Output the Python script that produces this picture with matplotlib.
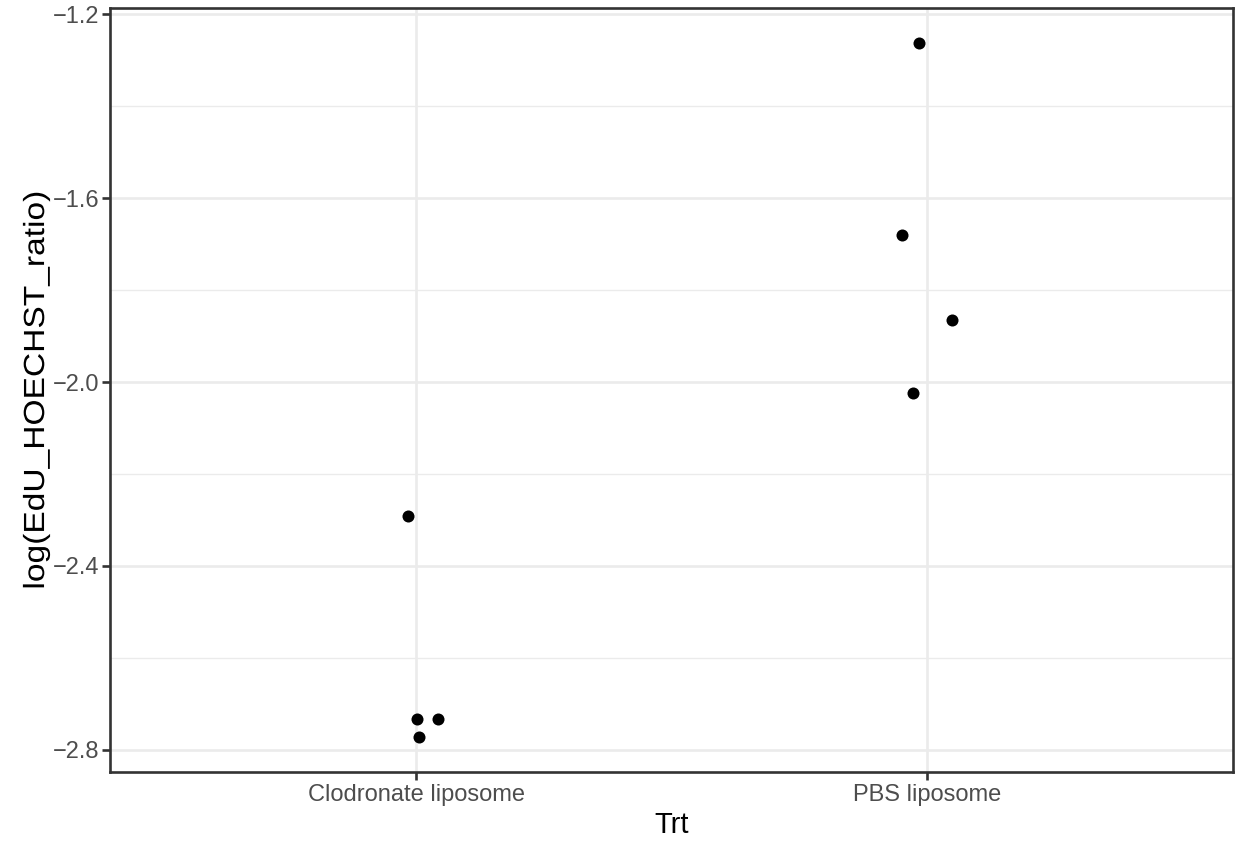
import matplotlib
matplotlib.use("Agg")
import matplotlib.pyplot as plt
import numpy as np
from matplotlib.patheffects import AbstractPathEffect
from matplotlib.transforms import Affine2D

# Treatment groups and measured log ratios (with horizontal jitter offsets)
categories = ["Clodronate liposome", "PBS liposome"]
group_index = [0, 0, 0, 0, 1, 1, 1, 1]
jitter = [-0.016, 0.002, 0.042, 0.005, -0.016, -0.049, 0.049, -0.027]
log_ratio = [-2.291, -2.733, -2.733, -2.773, -1.2615, -1.680, -1.8646, -2.024]
y_ticks = [-2.8, -2.4, -2.0, -1.6, -1.2]
y_minor = [-2.6, -2.2, -1.8, -1.4]

plt.rcParams["font.family"] = ["Liberation Sans", "DejaVu Sans"]


class StretchY(AbstractPathEffect):
    """Stretch glyph outlines vertically about the vertical centre of an axes."""

    def __init__(self, axes, factor):
        super().__init__()
        self._axes = axes
        self._factor = factor

    def draw_path(self, renderer, gc, tpath, affine, rgbFace=None):
        cy = self._axes.transAxes.transform((0, 0.5))[1]
        extra = Affine2D().translate(0, -cy).scale(1, self._factor).translate(0, cy)
        renderer.draw_path(gc, tpath, affine + extra, rgbFace)


W, H = 1238, 841
fig = plt.figure(figsize=(W / 100, H / 100), dpi=100)
left, right, top, bottom = 110, 1233, 8, 772
ax = fig.add_axes([left / W, 1 - bottom / H, (right - left) / W, (bottom - top) / H])

x = np.array(group_index, dtype=float) + 1 + np.array(jitter)
y = np.array(log_ratio)

ax.scatter(x, y, s=75, color="black", linewidths=0, zorder=3)

# Discrete x scale with ggplot-style expansion
ax.set_xlim(0.4, 2.6)
ypad = 0.05 * (y.max() - y.min())
ax.set_ylim(y.min() - ypad, y.max() + ypad)

ax.set_xticks([1, 2])
ax.set_xticklabels(categories)
ax.set_yticks(y_ticks)
ax.set_yticklabels([f"{v:.1f}".replace("-", "\u2212") for v in y_ticks])
ax.set_yticks(y_minor, minor=True)

ax.grid(True, which="major", color="#EBEBEB", linewidth=1.9, zorder=0)
ax.grid(True, which="minor", axis="y", color="#EBEBEB", linewidth=0.95, zorder=0)
ax.set_axisbelow(True)

for sp in ax.spines.values():
    sp.set_color("#333333")
    sp.set_linewidth(1.9)

ax.tick_params(axis="both", which="major", colors="#333333", length=5.8, width=1.9,
               labelsize=17, labelcolor="#4D4D4D")
ax.tick_params(axis="x", which="major", pad=2.6)
ax.tick_params(axis="y", which="major", pad=2.0)
ax.tick_params(axis="both", which="minor", length=0)

ax.set_xlabel("Trt", fontsize=21, color="black")
ax.xaxis.set_label_coords(0.5, -0.0504)

ylab = ax.set_ylabel("log(EdU_HOECHST_ratio)", fontsize=21, color="black")
ax.yaxis.set_label_coords(-0.0534, 0.5)
ylab.set_path_effects([StretchY(ax, 1.15)])

fig.savefig("out.png", dpi=100, facecolor="white")
